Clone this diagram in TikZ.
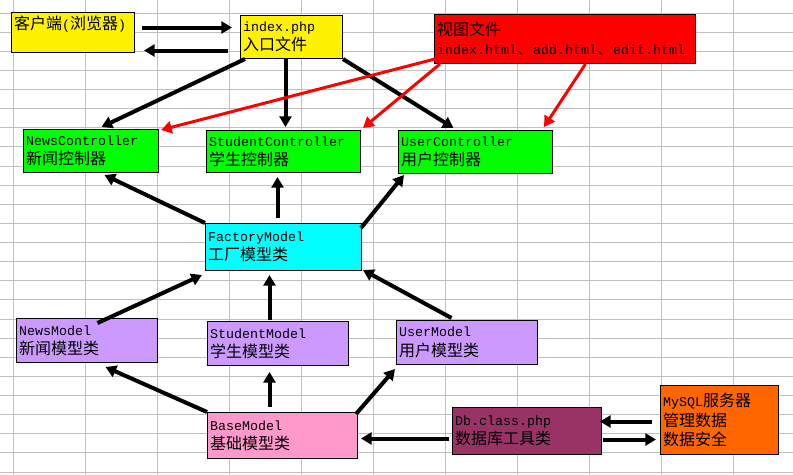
\documentclass[tikz,border=0pt]{standalone}
\usepackage{fontspec}
\setmainfont{Liberation Mono}
\newfontfamily\cjk{Noto Sans CJK SC}
\newcommand{\zh}[1]{{\cjk\fontsize{12}{14.5}\selectfont #1}}
\usetikzlibrary{arrows.meta,calc}
\definecolor{gridgray}{HTML}{C0C0C0}
\definecolor{factorycyan}{HTML}{00FFFF}
\definecolor{modelpurple}{HTML}{CC99FF}
\definecolor{basepink}{HTML}{FF99CC}
\definecolor{dbplum}{HTML}{993366}
\definecolor{sqlorange}{HTML}{FF6600}

\begin{document}
\begin{tikzpicture}[x=0.75pt,y=-0.75pt,font=\fontsize{10}{14.5}\selectfont,cell/.style={draw=black, line width=0.75pt, anchor=north west, align=left, inner xsep=2pt, inner ysep=0pt},flow/.style={line width=3pt, -{Triangle[length=8pt,width=9pt]}},viewflow/.style={flow, draw=red, line width=2.25pt}]
\useasboundingbox (0,0) rectangle (793,475);
\foreach \gx in {0,...,10} \draw[gridgray, line width=0.75pt] ({13+72*\gx},0) -- ({13+72*\gx},475);
\foreach \gy in {0,...,24} \draw[gridgray, line width=0.75pt] (0,{13+19.125*\gy}) -- (793,{13+19.125*\gy});
\node[cell, fill=yellow, minimum height=30pt, text width=88.25pt] (client) at (11,12) {\zh{客户端}(\zh{浏览器})\\\mbox{}};
\node[cell, fill=yellow, minimum height=32.25pt, text width=72.5pt] (index) at (240,15) {index.php\\\zh{入口文件}};
\node[cell, fill=red, minimum height=36.75pt, text width=191.75pt] (view) at (434,14) {\zh{视图文件}\\index.html\zh{、}add.html\zh{、}edit.html};
\node[cell, fill=green, minimum height=32.25pt, text width=97.25pt] (newsc) at (23,129) {NewsController\\\zh{新闻控制器}};
\node[cell, fill=green, minimum height=31.5pt, text width=111.5pt] (studc) at (206,130) {StudentController\\\zh{学生控制器}};
\node[cell, fill=green, minimum height=32.25pt, text width=111.5pt] (userc) at (398,130) {UserController\\\zh{用户控制器}};
\node[cell, fill=factorycyan, minimum height=35.25pt, text width=113pt] (factory) at (205,223) {FactoryModel\\\zh{工厂模型类}};
\node[cell, fill=modelpurple, minimum height=33pt, text width=101.75pt] (newsm) at (16,318) {NewsModel\\\zh{新闻模型类}};
\node[cell, fill=modelpurple, minimum height=33pt, text width=101.75pt] (studm) at (207,321) {StudentModel\\\zh{学生模型类}};
\node[cell, fill=modelpurple, minimum height=33pt, text width=101.75pt] (userm) at (396,320) {UserModel\\\zh{用户模型类}};
\node[cell, fill=basepink, minimum height=34.5pt, text width=108.5pt] (base) at (207,412) {BaseModel\\\zh{基础模型类}};
\node[cell, fill=dbplum, minimum height=35.25pt, text width=107.75pt] (db) at (452,407) {Db.class.php\\\zh{数据库工具类}};
\node[cell, fill=sqlorange, minimum height=51.75pt, text width=84.5pt] (mysql) at (660,385) {MySQL\zh{服务器}\\\zh{管理数据}\\\zh{数据安全}};
% request and response
\draw[flow] ($(client.east)+(7,-5)$) -- ($(index.west)+(-8,-9.5)$);
\draw[flow] ($(index.west)+(-12,13.5)$) -- ($(client.east)+(9,18)$);
% entry to controllers
\draw[flow] ($(index.south west)+(5,0)$) -- ($(newsc.north)+(10.5,-2)$);
\draw[flow] ($(index.south)+(-6,0)$) -- ($(studc.north)+(2,-3)$);
\draw[flow] (index.south east) -- ($(userc.north)+(-22,-2)$);
% views
\draw[viewflow] ($(view.south west)+(1,-5)$) -- ($(newsc.north east)+(2,1)$);
\draw[viewflow] ($(view.south west)+(6,0)$) -- ($(studc.north east)+(2,-2)$);
\draw[viewflow] ($(view.south)+(20.5,0)$) -- ($(userc.north east)+(-9,-3)$);
% factory
\draw[flow] (factory.north west) -- ($(newsc.south)+(13.5,2)$);
\draw[flow] ($(factory.north)+(-6,-5)$) -- ($(studc.south)+(-6,4)$);
\draw[flow] ($(factory.north east)+(-1,5)$) -- ($(userc.south west)+(6,1)$);
\draw[flow] ($(newsm.north)+(10.5,5)$) -- ($(factory.south west)+(-3,4)$);
\draw[flow] ($(studm.north)+(-8.5,-1)$) -- ($(factory.south)+(-14,4)$);
\draw[flow] ($(userm.north)+(-15.5,-2)$) -- ($(factory.south east)+(1,-1)$);
% base model
\draw[flow] (base.north west) -- ($(newsm.south)+(18.5,4)$);
\draw[flow] ($(base.north)+(-13,-5)$) -- ($(studm.south)+(-8.5,6)$);
\draw[flow] ($(base.north east)+(-2,2)$) -- ($(userm.south west)+(-1,4)$);
\draw[flow] ($(db.west)+(-3,7.5)$) -- ($(base.east)+(3,3)$);
\draw[flow] ($(mysql.west)+(-8,1.5)$) -- ($(db.east)+(-2,-9.5)$);
\draw[flow] ($(db.east)+(1,8.5)$) -- ($(mysql.west)+(-4,19.5)$);
\end{tikzpicture}
\end{document}
